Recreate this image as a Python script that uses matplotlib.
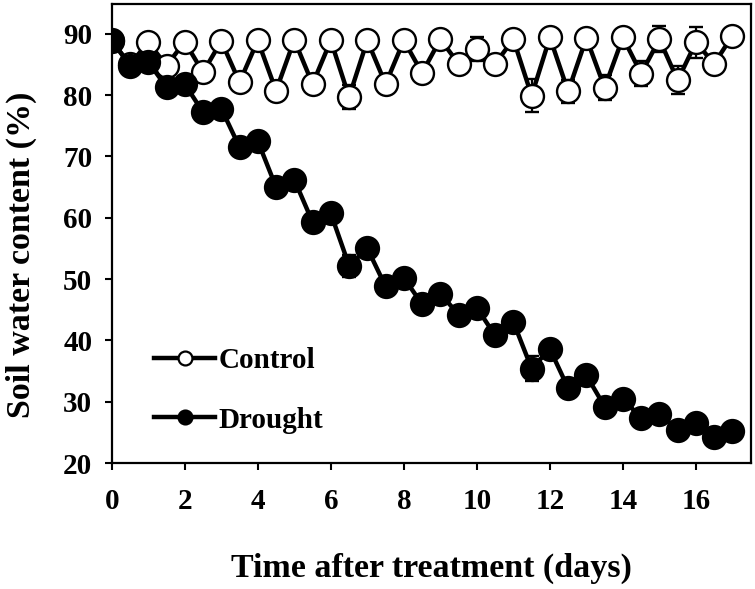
import matplotlib
matplotlib.use("Agg")
import matplotlib.pyplot as plt
import numpy as np
from matplotlib.lines import Line2D

days = np.arange(0, 17.01, 0.5)

control = [88.8, 85.0, 88.6, 84.8, 88.7, 83.7, 88.8, 82.1, 88.9, 80.7,
           89.0, 81.8, 88.9, 79.7, 88.9, 81.8, 88.9, 83.6, 89.1, 85.1,
           87.5, 85.1, 89.1, 79.9, 89.4, 80.6, 89.3, 81.2, 89.4, 83.5,
           89.1, 82.4, 88.6, 85.1, 89.7]
control_err = [0.8, 0.8, 0.8, 0.8, 0.8, 0.8, 0.8, 0.8, 0.8, 0.8,
               0.8, 0.8, 0.8, 2.0, 0.8, 0.8, 0.8, 0.8, 0.8, 0.8,
               1.9, 0.8, 0.8, 2.7, 0.8, 1.9, 0.8, 2.0, 0.8, 2.0,
               2.1, 2.3, 2.5, 0.8, 0.8]

drought = [88.9, 84.8, 85.4, 81.3, 81.8, 77.2, 77.8, 71.5, 72.5, 65.0,
           66.2, 59.3, 60.7, 52.2, 55.0, 48.8, 50.2, 45.9, 47.6, 44.2,
           45.3, 40.8, 43.0, 35.4, 38.6, 32.2, 34.3, 29.2, 30.5, 27.3,
           28.0, 25.4, 26.5, 24.3, 25.3]
drought_err = [0.6, 0.6, 0.6, 0.6, 0.6, 0.6, 0.6, 0.6, 0.6, 0.6,
               0.6, 0.6, 0.6, 1.8, 0.6, 0.6, 0.6, 0.6, 0.6, 0.6,
               0.6, 0.6, 0.6, 2.0, 0.6, 0.6, 0.6, 0.6, 0.6, 0.6,
               0.6, 0.6, 0.6, 0.6, 0.6]

xticks = [0, 2, 4, 6, 8, 10, 12, 14, 16]
yticks = [20, 30, 40, 50, 60, 70, 80, 90]

plt.rcParams['font.family'] = ['Liberation Serif', 'DejaVu Serif']
plt.rcParams['font.weight'] = 'bold'

fig = plt.figure(figsize=(7.55, 5.89), dpi=100)
ax = fig.add_axes([0.148, 0.2139, 0.9943 - 0.148, 0.9927 - 0.2139])

lw = 3.2
ax.errorbar(days, control, yerr=control_err, color='black', lw=lw,
            marker='o', ms=16.5, mfc='white', mec='black', mew=1.7,
            ecolor='black', elinewidth=1.6, capsize=5, capthick=1.6, zorder=2)
ax.errorbar(days, drought, yerr=drought_err, color='black', lw=lw,
            marker='o', ms=16.5, mfc='black', mec='black', mew=1.7,
            ecolor='black', elinewidth=1.6, capsize=5, capthick=1.6, zorder=3)

ax.set_xlim(0, 17.5)
ax.set_ylim(20, 94.8)
ax.set_xticks(xticks)
ax.set_yticks(yticks)
ax.tick_params(axis='both', which='both', direction='out', length=5, width=1.5,
               labelsize=21, top=False, right=False)
ax.tick_params(axis='x', pad=13)
ax.tick_params(axis='y', pad=9)
for s in ax.spines.values():
    s.set_linewidth(1.6)

ax.set_xlabel('Time after treatment (days)', fontsize=24.5, fontweight='bold', labelpad=27)
ax.set_ylabel('Soil water content (%)', fontsize=24.5, fontweight='bold')
ax.yaxis.set_label_coords(-0.117, 0.4546)

h1 = Line2D([], [], color='black', lw=lw, marker='o', ms=10, mfc='white', mec='black', mew=1.6)
h2 = Line2D([], [], color='black', lw=lw, marker='o', ms=10, mfc='black', mec='black', mew=1.6)
leg = ax.legend([h1, h2], ['Control', 'Drought'], loc='lower left',
                bbox_to_anchor=(0.025, 0.007), frameon=False,
                handlelength=2.1, handletextpad=0.12, labelspacing=1.1,
                prop={'weight': 'bold', 'size': 21})

fig.savefig('out.png', dpi=100)
